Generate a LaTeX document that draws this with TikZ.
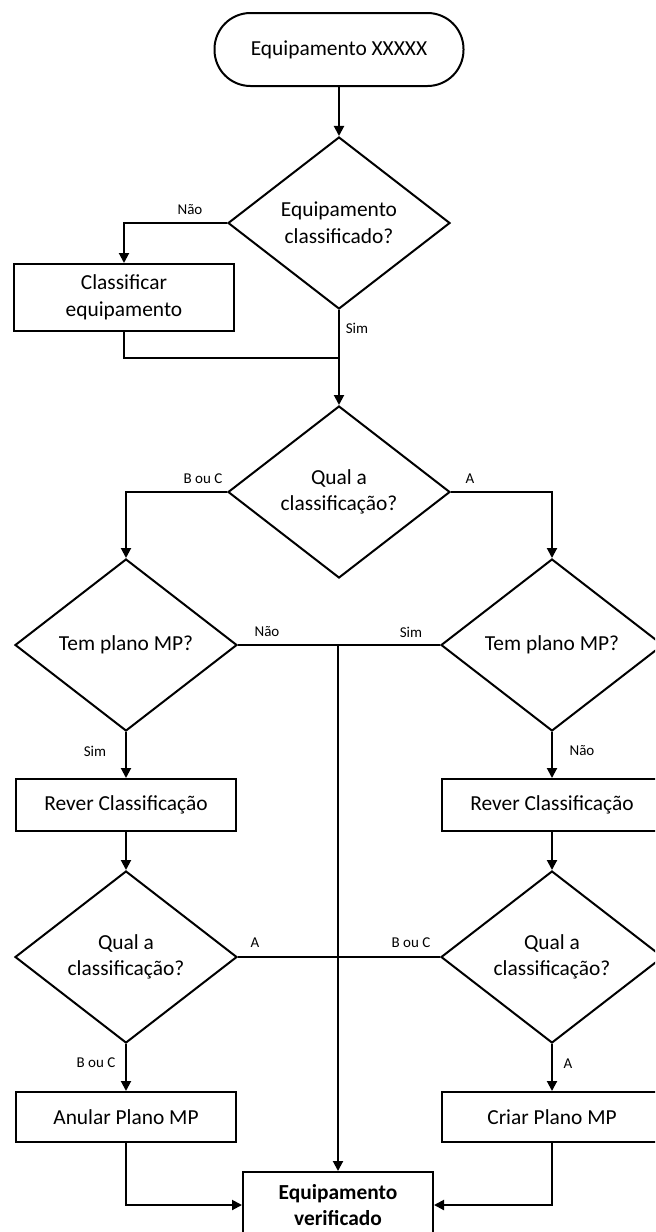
\documentclass[tikz,border=0pt]{standalone}
\usepackage{fontspec}
\setmainfont{Carlito}
\usetikzlibrary{shapes.geometric,arrows.meta}

\begin{document}
\begin{tikzpicture}[
  x=0.5pt, y=-0.5pt,
  txt/.style={font=\fontsize{10.7}{13.3}\selectfont},
  lbl/.style={font=\fontsize{7.5}{9}\selectfont, inner sep=0pt},
  line/.style={line width=1pt},
  arr/.style={line width=1pt, -{Triangle[length=5pt,width=5pt]}},
  terminal/.style={txt, draw, line width=1pt, rectangle, rounded corners=18pt,
    minimum width=124.5pt, minimum height=36.5pt, inner sep=0pt},
  proc/.style={txt, draw, line width=1pt, rectangle, align=center,
    minimum width=110pt, minimum height=26pt, inner sep=0pt},
  decision/.style={txt, draw, line width=1pt, diamond, aspect=1.3, align=center,
    minimum width=111pt, minimum height=86pt, inner sep=0pt}
]
\useasboundingbox (0,0) rectangle (655,1232);
\clip (0,0) rectangle (655,1232);
\fill[white] (0,0) rectangle (655,1232);

% nodes
\node[terminal] (start) at (339,49.5) {Equipamento XXXXX};
\node[decision] (d1) at (339,223) {Equipamento\\classificado?};
\node[proc, minimum height=33.5pt] (cls) at (124,297.5) {Classificar\\equipamento};
\coordinate (join) at (339,358);
\node[decision] (d2) at (339,492) {Qual a\\classificação?};
\node[decision] (d3) at (126,645) {Tem plano MP?};
\node[decision] (d4) at (552,645) {Tem plano MP?};
\node[proc] (rev1) at (126,805) {Rever Classificação};
\node[proc] (rev2) at (552,805) {Rever Classificação};
\node[decision] (d5) at (126,957) {Qual a\\classificação?};
\node[decision] (d6) at (552,957) {Qual a\\classificação?};
\node[proc, minimum height=25pt] (anular) at (126,1117) {Anular Plano MP};
\node[proc, minimum height=25pt] (criar) at (552,1117) {Criar Plano MP};
\node[proc, minimum width=95pt, minimum height=33pt] (fim) at (338,1205)
  {\bfseries Equipamento\\\bfseries verificado};

% connectors
\draw[arr] (start) -- (d1);
\draw[arr] (d1.west) -| (cls.north);
\draw[line] (cls.south) |- (join);
\draw[arr] (d1.south) -- (d2.north);
\draw[arr] (d2.west) -| (d3.north);
\draw[arr] (d2.east) -| (d4.north);
\draw[line] (d3.east) -- (d4.west);
\draw[arr] (d3.east -| fim.north) -- (fim.north);
\draw[arr] (d3.south) -- (rev1.north);
\draw[arr] (d4.south) -- (rev2.north);
\draw[arr] (rev1.south) -- (d5.north);
\draw[arr] (rev2.south) -- (d6.north);
\draw[line] (d5.east) -- (d6.west);
\draw[arr] (d5.south) -- (anular.north);
\draw[arr] (d6.south) -- (criar.north);
\draw[arr] (anular.south) |- (fim.west);
\draw[arr] (criar.south) |- (fim.east);

% branch labels
\node[lbl] (l1) at (190,210) {Não};
\node[lbl] (l2) at (357,328) {Sim};
\node[lbl] (l3) at (203,479) {B ou C};
\node[lbl] (l4) at (470,479) {A};
\node[lbl] (l5) at (267,632) {Não};
\node[lbl] (l6) at (411,632) {Sim};
\node[lbl] (l7) at (95,751) {Sim};
\node[lbl] (l8) at (582,751) {Não};
\node[lbl] (l9) at (255,943) {A};
\node[lbl] (l10) at (411,943) {B ou C};
\node[lbl] (l11) at (96,1063) {B ou C};
\node[lbl] (l12) at (568,1064) {A};
\end{tikzpicture}
\end{document}
